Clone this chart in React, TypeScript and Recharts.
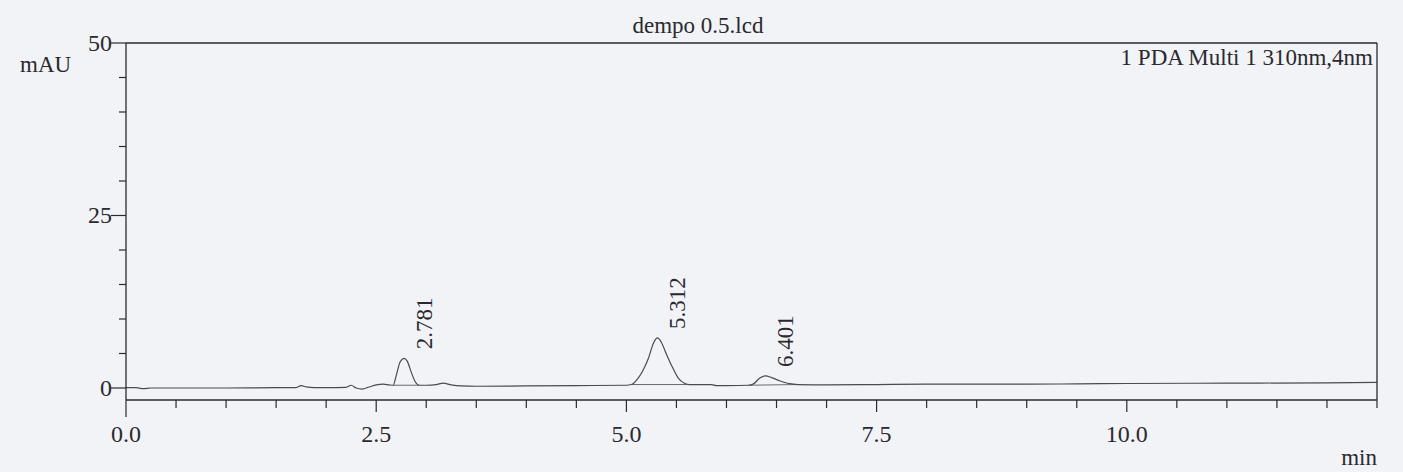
import { LineChart, Line, XAxis, YAxis, ReferenceLine, ReferenceDot } from 'recharts'

// retention time (min) and detector signal (mAU)
const times = [
  0, 0.1, 0.17, 0.25, 0.5, 1.0, 1.5, 1.7, 1.75, 1.8, 1.88, 2.0, 2.2, 2.25, 2.3, 2.36, 2.43, 2.5,
  2.57, 2.63, 2.67, 2.7, 2.74, 2.78, 2.81, 2.85, 2.89, 2.93, 3.0, 3.1, 3.17, 3.25, 3.35, 3.5,
  4.0, 4.5, 5.0, 5.05, 5.11, 5.16, 5.22, 5.27, 5.31, 5.35, 5.4, 5.46, 5.52, 5.58, 5.63, 5.75,
  5.85, 5.9, 6.0, 6.22, 6.27, 6.33, 6.39, 6.45, 6.52, 6.58, 6.65, 6.72, 7.0, 7.5, 8.0, 9.0,
  9.5, 10.0, 11.0, 12.0, 12.5,
]
const signal = [
  0.05, 0.05, -0.1, 0.0, 0.0, 0.0, 0.05, 0.05, 0.35, 0.15, 0.05, 0.05, 0.1, 0.4, 0.0, -0.15, 0.15, 0.45,
  0.55, 0.45, 0.4, 1.8, 3.8, 4.3, 3.9, 2.3, 0.9, 0.4, 0.4, 0.5, 0.7, 0.45, 0.3, 0.25,
  0.3, 0.35, 0.4, 0.5, 1.3, 2.4, 4.3, 6.5, 7.25, 6.6, 4.9, 3.0, 1.4, 0.7, 0.5, 0.5,
  0.5, 0.35, 0.35, 0.4, 0.6, 1.4, 1.75, 1.5, 1.1, 0.8, 0.6, 0.5, 0.45, 0.5, 0.55, 0.55,
  0.6, 0.65, 0.7, 0.75, 0.8,
]

const xTicks = [0, 0.5, 1, 1.5, 2, 2.5, 3, 3.5, 4, 4.5, 5, 5.5, 6, 6.5, 7, 7.5, 8, 8.5, 9, 9.5, 10, 10.5, 11, 11.5, 12, 12.5]
const xLabels = [0, 2.5, 5, 7.5, 10]
const yTicks = [0, 5, 10, 15, 20, 25, 30, 35, 40, 45, 50]
const yLabels = [0, 25, 50]

const peakNames = ['2.781', '5.312', '6.401']
const peakTimes = [2.78, 5.31, 6.39]
const peakTops = [4.3, 7.25, 1.75]
const peakStart = [2.67, 5.05, 6.22]
const peakEnd = [2.93, 5.63, 6.72]
const peakStartBase = [0.4, 0.5, 0.4]
const peakEndBase = [0.4, 0.5, 0.5]

const data = times.map((t, i) => ({ t, v: signal[i] }))

const FONT = 'Liberation Serif, Times New Roman, serif'
const INK = '#2a2a2e'

function XTick({ x, y, payload }: any) {
  const v = payload.value
  const major = xLabels.includes(v)
  const len = v === 0 ? 17 : major ? 12 : 8
  return (
    <g>
      <line x1={x} x2={x} y1={y} y2={y + len} stroke={INK} strokeWidth={1.2} />
      {major && (
        <text x={x} y={y + 42} textAnchor="middle" fontFamily={FONT} fontSize={24} fill={INK}>
          {v.toFixed(1)}
        </text>
      )}
    </g>
  )
}

function YTick({ x, y, payload }: any) {
  const v = payload.value
  const major = yLabels.includes(v)
  return (
    <g>
      <line x1={x - (major ? 15 : 7)} x2={x} y1={y} y2={y} stroke={INK} strokeWidth={1.2} />
      {major && (
        <text x={x - 14} y={y + 8} textAnchor="end" fontFamily={FONT} fontSize={24} fill={INK}>
          {v}
        </text>
      )}
    </g>
  )
}

function PeakLabel({ cx, cy, name }: any) {
  return (
    <text
      transform={`translate(${cx + 20}, ${cy - 9}) rotate(-90)`}
      textAnchor="start"
      dominantBaseline="central"
      fontFamily={FONT}
      fontSize={23}
      fill={INK}
    >
      {name}
    </text>
  )
}

export default function App() {
  return (
    <div style={{ position: 'absolute', left: 0, top: 0, width: 1403, height: 472, background: '#f2f3f7' }}>
      <LineChart
        width={1403}
        height={472}
        data={data}
        margin={{ top: 42, right: 25, bottom: 32, left: 0 }}
      >
        <XAxis
          dataKey="t"
          type="number"
          domain={[0, 12.5]}
          ticks={xTicks}
          height={40}
          tickSize={0}
          tickMargin={0}
          tickLine={false}
          tick={<XTick />}
          interval={0}
          axisLine={{ stroke: INK, strokeWidth: 1.3 }}
          allowDataOverflow
        />
        <XAxis
          xAxisId="top"
          orientation="top"
          dataKey="t"
          type="number"
          domain={[0, 12.5]}
          height={1}
          tick={false}
          tickLine={false}
          axisLine={{ stroke: INK, strokeWidth: 1.3 }}
        />
        <YAxis
          type="number"
          domain={[-1.74, 50]}
          ticks={yTicks}
          width={126}
          tickSize={0}
          tickMargin={0}
          tickLine={false}
          tick={<YTick />}
          interval={0}
          axisLine={{ stroke: INK, strokeWidth: 1.3 }}
          allowDataOverflow
        />
        <YAxis
          yAxisId="right"
          orientation="right"
          type="number"
          domain={[-1.74, 50]}
          width={1}
          tick={false}
          tickLine={false}
          axisLine={{ stroke: INK, strokeWidth: 1.3 }}
        />
        {peakStart.map((s, i) => (
          <ReferenceLine
            key={`base-${i}`}
            segment={[{ x: s, y: peakStartBase[i] }, { x: peakEnd[i], y: peakEndBase[i] }]}
            stroke="#6a6a70"
            strokeWidth={1}
          />
        ))}
        <Line
          type="monotone"
          dataKey="v"
          stroke="#4a4a50"
          strokeWidth={1.2}
          dot={false}
          isAnimationActive={false}
        />
        {peakTimes.map((t, i) => (
          <ReferenceDot
            key={`peak-${i}`}
            x={t}
            y={peakTops[i]}
            r={0}
            shape={(p: any) => <PeakLabel cx={p.cx} cy={p.cy} name={peakNames[i]} />}
          />
        ))}
      </LineChart>
      <svg width={1403} height={472} style={{ position: 'absolute', left: 0, top: 0, pointerEvents: 'none' }}>
        <text x={698} y={33} textAnchor="middle" fontFamily={FONT} fontSize={23} fill={INK}>dempo 0.5.lcd</text>
        <text x={20} y={72} fontFamily={FONT} fontSize={23} fill={INK}>mAU</text>
        <text x={1373} y={65} textAnchor="end" fontFamily={FONT} fontSize={23} fill={INK}>1 PDA Multi 1 310nm,4nm</text>
        <text x={1377} y={465} textAnchor="end" fontFamily={FONT} fontSize={23} fill={INK}>min</text>
      </svg>
    </div>
  )
}
